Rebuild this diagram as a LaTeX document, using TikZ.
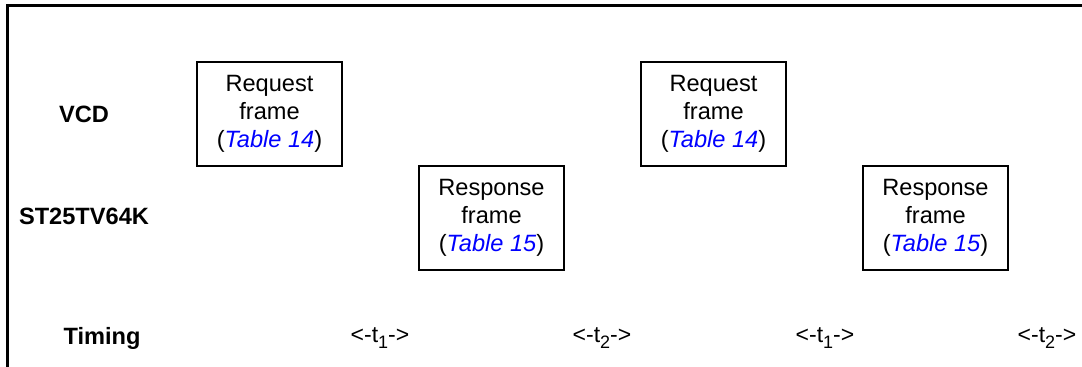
\documentclass[tikz,border=0pt]{standalone}
\usepackage{fontspec}
\setmainfont{Liberation Sans}
\usepackage{tikz}
\usetikzlibrary{positioning}
\definecolor{reflink}{RGB}{0,0,255}
\newcommand{\tsub}[1]{\raisebox{-0.45ex}{\fontsize{9}{9}\selectfont #1}}

\begin{document}
\begin{tikzpicture}[x=0.5pt, y=-0.5pt, node distance=0pt and 38.5pt,
  frame/.style={draw, line width=1.4pt, minimum width=72.5pt, minimum height=52pt,
    outer sep=0pt, align=center, inner sep=0pt, font=\fontsize{11.8}{14}\selectfont},
  rowlab/.style={font=\bfseries\fontsize{11.8}{13}\selectfont},
  tlab/.style={font=\fontsize{11.5}{13}\selectfont}]
\useasboundingbox (0,0) rectangle (1082,367);
\draw[line width=1.5pt] (7.5,367) -- (7.5,6) -- (1082,6);
% row labels
\node[rowlab] (vcd) at (84,114) {VCD};
\node[rowlab] (tag) at (84,216) {ST25TV64K};
\node[rowlab] (timing) at (102,338) {Timing};
% frames
\node[frame] (req1) at (269.5,114) {Request\\frame\\(\textcolor{reflink}{\textit{Table 14}})};
\node[frame, below right=of req1] (resp1) {Response\\frame\\(\textcolor{reflink}{\textit{Table 15}})};
\node[frame, above right=of resp1] (req2) {Request\\frame\\(\textcolor{reflink}{\textit{Table 14}})};
\node[frame, below right=of req2] (resp2) {Response\\frame\\(\textcolor{reflink}{\textit{Table 15}})};
% timing
\node[tlab] (ta) at (380,338) {<-t\tsub{1}->};
\node[tlab] (tb) at (602,338) {<-t\tsub{2}->};
\node[tlab] (tc) at (825,338) {<-t\tsub{1}->};
\node[tlab] (td) at (1047,338) {<-t\tsub{2}->};
\end{tikzpicture}
\end{document}
